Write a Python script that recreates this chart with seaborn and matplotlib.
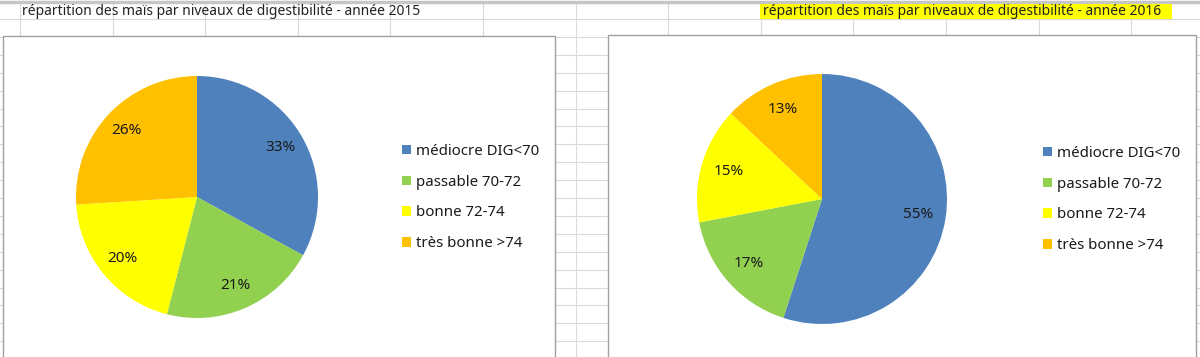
import numpy as np
import matplotlib
matplotlib.use("Agg")
import matplotlib.pyplot as plt
from matplotlib.patches import Rectangle, Patch
import seaborn as sns

# data
categories = ["médiocre DIG<70", "passable 70-72", "bonne 72-74", "très bonne >74"]
values_2015 = [33, 21, 20, 26]
values_2016 = [55, 17, 15, 13]
title_2015 = "répartition des maïs par niveaux de digestibilité - année 2015"
title_2016 = "répartition des maïs par niveaux de digestibilité - année 2016"
colors = ["#4F81BD", "#92D050", "#FFFF00", "#FFC000"]

sns.set_theme(style="white")
plt.rcParams["font.family"] = ["Noto Sans", "DejaVu Sans"]

W, H = 1200, 357
fig = plt.figure(figsize=(W / 100, H / 100), dpi=100)
fig.patch.set_facecolor("white")

# spreadsheet background
bg = fig.add_axes([0, 0, 1, 1])
bg.set_xlim(0, W)
bg.set_ylim(H, 0)
bg.axis("off")
grid_col = "#DADADA"
for x in 20 + 92.6 * np.arange(13):
    bg.plot([x, x], [2, H], color=grid_col, lw=0.8, zorder=1)
for y in 19 + 17.9 * np.arange(19):
    bg.plot([0, W], [y, y], color=grid_col, lw=0.8, zorder=1)
bg.plot([0, W], [1.5, 1.5], color="#C6C6C6", lw=2.5, zorder=2)

# yellow highlighted cell text for 2016
bg.add_patch(Rectangle((760, 4), 412, 15, facecolor="#FFFF00", edgecolor="none", zorder=2))
bg.text(22, 11.5, title_2015, fontsize=10, color="#222222", va="center", ha="left", zorder=3)
bg.text(763, 11.5, title_2016, fontsize=10, color="#222222", va="center", ha="left", zorder=3)

# chart boxes
bg.add_patch(Rectangle((3, 36), 552, H, facecolor="white", edgecolor="#A0A0A0", lw=1.0, zorder=4))
bg.add_patch(Rectangle((608, 35), 588, H, facecolor="white", edgecolor="#A0A0A0", lw=1.0, zorder=4))


def pie_axes(cx, cy, r):
    return fig.add_axes([(cx - r) / W, (H - cy - r) / H, 2 * r / W, 2 * r / H])


def draw_pie(ax, values, pctd):
    wedges, texts, autotexts = ax.pie(
        values, colors=colors, startangle=90, counterclock=False,
        autopct="%1.0f%%", pctdistance=pctd,
        wedgeprops=dict(linewidth=0),
        textprops=dict(fontsize=11, color="#1a1a1a"),
    )
    ax.set_xlim(-1, 1)
    ax.set_ylim(-1, 1)
    ax.set_aspect("equal")
    ax.axis("off")
    return wedges


ax1 = pie_axes(197, 197, 121)
draw_pie(ax1, values_2015, 0.8)
ax2 = pie_axes(822, 199, 125)
draw_pie(ax2, values_2016, 0.78)

handles = [Patch(facecolor=c, edgecolor="none") for c in colors]
for lx, ly in [(402, 144), (1043, 146)]:
    fig.legend(
        handles, categories, loc="upper left",
        bbox_to_anchor=(lx / W, 1 - ly / H), bbox_transform=fig.transFigure,
        frameon=False, fontsize=10.8, handlelength=0.6, handleheight=0.6,
        handletextpad=0.35, labelspacing=1.05, borderaxespad=0, borderpad=0,
        labelcolor="#1a1a1a",
    )

fig.savefig("out.png", dpi=100)
